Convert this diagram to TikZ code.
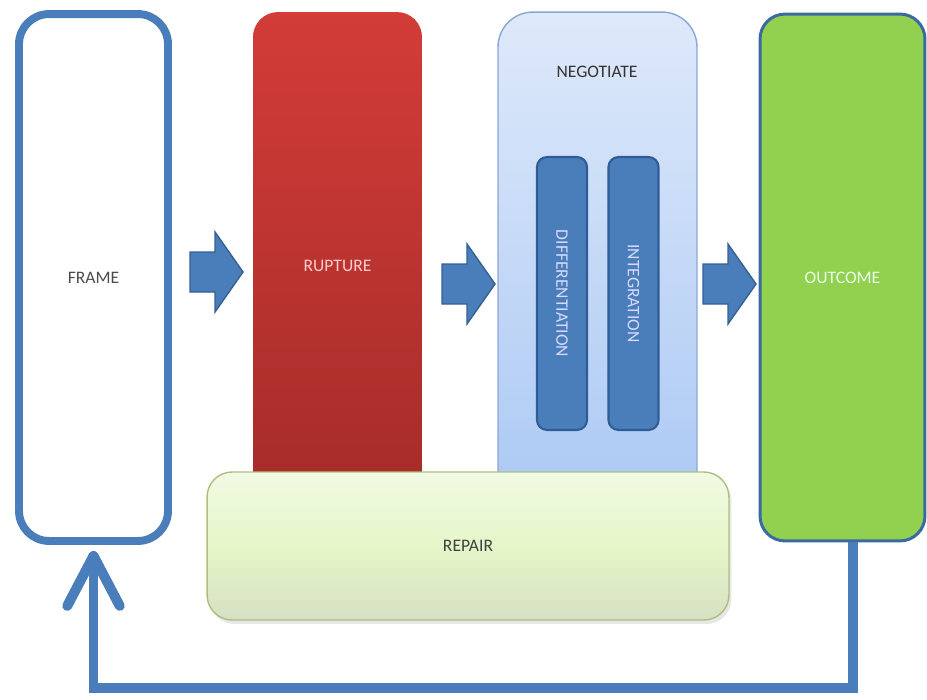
\documentclass[tikz,border=0pt]{standalone}
\usepackage{fontspec}
\setmainfont{Carlito}
\usetikzlibrary{arrows.meta,shadows}

\definecolor{frameblue}{RGB}{74,126,187}
\definecolor{arrowedge}{RGB}{52,96,150}
\definecolor{ruptop}{RGB}{211,60,56}
\definecolor{rupbot}{RGB}{163,43,40}
\definecolor{negtop}{RGB}{222,233,250}
\definecolor{negbot}{RGB}{170,200,244}
\definecolor{negedge}{RGB}{138,166,212}
\definecolor{subedge}{RGB}{47,92,148}
\definecolor{outgreen}{RGB}{146,208,80}
\definecolor{outedge}{RGB}{59,106,160}
\definecolor{reptop}{RGB}{241,250,228}
\definecolor{repmid}{RGB}{230,246,200}
\definecolor{repbot}{RGB}{214,224,196}
\definecolor{repedge}{RGB}{174,190,126}

\newcommand{\blockarrow}[2]{%
  \filldraw[fill=frameblue,draw=arrowedge,line width=0.8pt,line join=miter]
    (#1,#2) -- ++(-28,-40) -- ++(0,20) -- ++(-25,0) -- ++(0,40)
    -- ++(25,0) -- ++(0,20) -- cycle;}

\begin{document}
\begin{tikzpicture}[x=0.02cm,y=-0.02cm,
  stage/.style={rectangle,rounded corners=0.5cm,font=\fontsize{10}{12}\selectfont},
  framebox/.style={stage,rounded corners=0.6cm,draw=frameblue,line width=4.5pt,fill=white,text=black!70,
    drop shadow={opacity=0.15,shadow xshift=0.04cm,shadow yshift=-0.06cm}},
  rupbox/.style={stage,top color=ruptop,bottom color=rupbot,text=red!20!white},
  negbox/.style={stage,rounded corners=0.7cm,draw=negedge,line width=0.8pt,
    top color=negtop,bottom color=negbot},
  subbox/.style={stage,rounded corners=0.2cm,draw=subedge,line width=1.2pt,
    fill=frameblue,text=blue!15!white,rotate=-90,minimum width=5.46cm,minimum height=1cm},
  outbox/.style={stage,draw=outedge,line width=1.7pt,fill=outgreen,text=green!8!white},
  repbox/.style={stage,draw=repedge,line width=0.8pt,top color=reptop,bottom color=repbot,
    middle color=repmid,text=black!75,
    drop shadow={opacity=0.2,shadow xshift=0.05cm,shadow yshift=-0.08cm}},
  feedback/.style={draw=frameblue,line width=0.2cm,
    -{Straight Barb[length=1cm,width=1.05cm,round]}}]

  \useasboundingbox (0,0) rectangle (927,700);

  \node[framebox,minimum width=2.98cm,minimum height=10.54cm] (frame) at (93.5,277.5) {FRAME};
  \node[rupbox,minimum width=3.38cm,minimum height=10.16cm] (rupture) at (337.5,266) {RUPTURE};
  \node[negbox,minimum width=3.98cm,minimum height=10.16cm] (negotiate) at (597.5,266) {};
  \node[font=\fontsize{10}{12}\selectfont,text=black!80] (negtitle) at (597,72) {NEGOTIATE};
  \node[subbox] (diff) at (562,293.5) {DIFFERENTIATION};
  \node[subbox] (integ) at (633.5,293.5) {INTEGRATION};
  \node[outbox,minimum width=3.3cm,minimum height=10.54cm] (outcome) at (842.5,277.5) {OUTCOME};
  \node[repbox,minimum width=10.44cm,minimum height=2.96cm] (repair) at (468,546) {REPAIR};

  % block arrows between the stages
  \blockarrow{243}{272}
  \blockarrow{495}{284}
  \blockarrow{756}{284}

  % loop back from outcome to frame
  \draw[feedback] ([xshift=0.2cm]outcome.south) -- ++(0,146) -| ([yshift=-0.12cm]frame.south);
\end{tikzpicture}
\end{document}
